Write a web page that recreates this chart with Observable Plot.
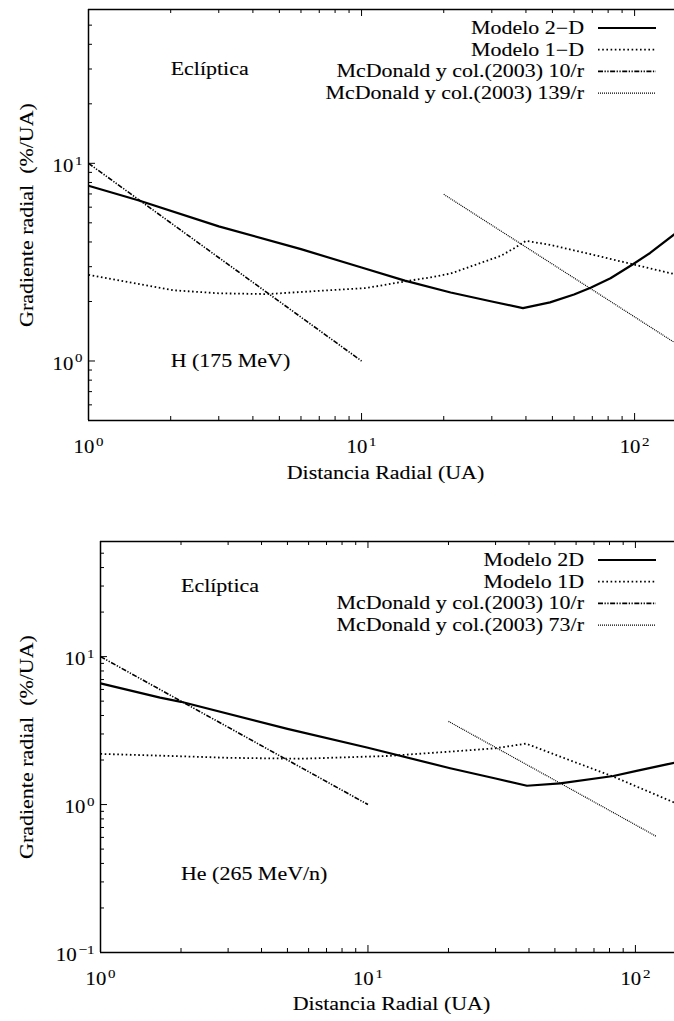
<!DOCTYPE html>
<html><head><meta charset="utf-8">
<script src="https://cdn.jsdelivr.net/npm/d3@7"></script>
<script src="https://cdn.jsdelivr.net/npm/@observablehq/plot@0.6"></script>
<style>
html,body{margin:0;padding:0;background:#fff;}
#chart{width:674px;}
#chart svg{display:block;}
#chart text{stroke:black;stroke-width:0.1px;}
</style></head><body><div id="chart"></div>
<script>
// ---------- data ----------
const xMajor = [1, 10, 100];
const xMinor = [2,3,4,5,6,7,8,9,20,30,40,50,60,70,80,90];

// Panel 1: H (175 MeV)
const hYMajor = [1, 10];
const hYMinor = [0.6,0.7,0.8,0.9,2,3,4,5,6,7,8,9,20,30,40,50];
const h2D_x = [1, 1.52, 3, 6, 10, 14.4, 21.2, 30, 39, 49, 60, 69, 81.6, 98, 114, 140];
const h2D_y = [7.7, 6.5, 4.8, 3.68, 2.97, 2.55, 2.22, 2.0, 1.85, 1.98, 2.17, 2.35, 2.62, 3.07, 3.52, 4.38];
const h1D_x = [1, 2.04, 3, 4.5, 10.4, 15, 17.9, 21.2, 27.6, 32.3, 36, 40, 49, 69, 98, 140];
const h1D_y = [2.73, 2.28, 2.2, 2.18, 2.34, 2.55, 2.65, 2.77, 3.15, 3.4, 3.7, 4.05, 3.87, 3.47, 3.09, 2.75];
const hMcD10_x = [1, 10];
const hMcD10_y = [10, 1];
const hMcD139_x = [20, 140];
const hMcD139_y = [6.97, 1.24];
const hLegend = ["Modelo 2\u2212D", "Modelo 1\u2212D", "McDonald y col.(2003) 10/r", "McDonald y col.(2003) 139/r"];
const hNotes = ["Ecl\u00edptica", "H (175 MeV)"];
const hNotesX = [2, 2];
const hNotesY = [30, 1];

// Panel 2: He (265 MeV/n)
const heYMajor = [0.1, 1, 10];
const heYMinor = [0.2,0.3,0.4,0.5,0.6,0.7,0.8,0.9,2,3,4,5,6,7,8,9,20,30,40,50];
const he2D_x = [1, 1.67, 2, 5, 10, 20.3, 30, 39.3, 52.3, 82.7, 101, 140];
const he2D_y = [6.6, 5.28, 4.95, 3.25, 2.42, 1.76, 1.5, 1.34, 1.39, 1.56, 1.69, 1.92];
const he1D_x = [1, 2, 3, 5.6, 11.8, 20.3, 29.9, 39, 83, 140];
const he1D_y = [2.2, 2.12, 2.07, 2.04, 2.13, 2.28, 2.4, 2.58, 1.54, 1.03];
const heMcD10_x = [1, 10];
const heMcD10_y = [10, 1];
const heMcD73_x = [20, 120];
const heMcD73_y = [3.65, 0.608];
const heLegend = ["Modelo 2D", "Modelo 1D", "McDonald y col.(2003) 10/r", "McDonald y col.(2003) 73/r"];
const heNotes = ["Ecl\u00edptica", "He (265 MeV/n)"];
const heNotesX = [2, 2];
const heNotesY = [30, 0.34];

const xTitle = "Distancia Radial (UA)";
const yTitle = "Gradiente radial\u00a0 (%/UA)";

// ---------- styles ----------
const FONT = "'Liberation Serif','Times New Roman',Times,serif";
const STRETCH = 1.22;
const lineStyles = [
  {strokeWidth: 2.2},
  {strokeWidth: 1.8, strokeDasharray: "1.6,2.6", strokeLinecap: "butt"},
  {strokeWidth: 1.6, strokeDasharray: "5,1.5,1.3,1.5,1.3,1.5", strokeLinecap: "butt"},
  {strokeWidth: 1.2, strokeDasharray: "1,1", strokeLinecap: "butt"}
];

const pts = (xs, ys) => xs.map((x, i) => ({x, y: ys[i]}));

function panel(cfg) {
  const W = 674;
  const innerW = W - cfg.marginLeft;
  const innerH = cfg.height - cfg.marginTop - cfg.marginBottom;
  const fmt = d => "10^" + Math.round(Math.log10(d));
  const marks = [
    Plot.ruleX(xMinor, {insetTop: innerH - 4, strokeWidth: 1}),
    Plot.ruleX(xMinor, {insetBottom: innerH - 4, strokeWidth: 1}),
    Plot.ruleX(xMajor, {insetTop: innerH - 7, strokeWidth: 1}),
    Plot.ruleX(xMajor, {insetBottom: innerH - 7, strokeWidth: 1}),
    Plot.ruleY(cfg.yMinor, {insetRight: innerW - 4, strokeWidth: 1}),
    Plot.ruleY(cfg.yMajor, {insetRight: innerW - 7, strokeWidth: 1}),
    Plot.ruleX([1], {strokeWidth: 1.5}),
    Plot.ruleY(cfg.yDomain, {strokeWidth: 1.5}),
    Plot.axisX({ticks: xMajor, tickSize: 0, tickPadding: 20, tickFormat: fmt, label: null}),
    Plot.axisY({ticks: cfg.yMajor, tickSize: 0, tickPadding: 6, dy: 3, tickFormat: fmt, label: null})
  ];
  cfg.series.forEach((s, i) => {
    marks.push(Plot.line(pts(s[0], s[1]), {x: "x", y: "y", stroke: "black", clip: true, ...lineStyles[i]}));
  });
  marks.push(Plot.text(cfg.notes, {x: (d, i) => cfg.notesX[i], y: (d, i) => cfg.notesY[i], text: d => d, textAnchor: "start"}));
  marks.push(Plot.text([xTitle], {text: d => d, frameAnchor: "bottom", dy: cfg.xTitleDy, dx: 4}));
  marks.push(Plot.text([yTitle], {text: d => d, frameAnchor: "left", rotate: -90, dx: -(cfg.marginLeft - 32), lineAnchor: "bottom", textAnchor: "middle"}));
  const svg = Plot.plot({
    width: W, height: cfg.height,
    marginTop: cfg.marginTop, marginBottom: cfg.marginBottom, marginLeft: cfg.marginLeft, marginRight: 0,
    style: {fontFamily: FONT, fontSize: "18px", color: "black", background: "white"},
    x: {type: "log", domain: [1, 140]},
    y: {type: "log", domain: cfg.yDomain},
    marks
  });
  // legend (inside frame, top right)
  const g = d3.select(svg).append("g").attr("font-family", FONT).attr("font-size", 18).attr("fill", "black");
  cfg.legend.forEach((lab, i) => {
    const cy = cfg.marginTop + 19 + i * 21.7;
    g.append("text").attr("x", 584).attr("y", cy + 6).attr("text-anchor", "end").text(lab);
    const st = lineStyles[i];
    g.append("line").attr("x1", 598).attr("x2", 656).attr("y1", cy).attr("y2", cy)
      .attr("stroke", "black").attr("stroke-width", st.strokeWidth)
      .attr("stroke-dasharray", st.strokeDasharray || null);
  });
  // superscripts on tick labels
  svg.querySelectorAll('g[aria-label$="tick label"] text').forEach(t => {
    const m = t.textContent.match(/^10\^(.+)$/);
    if (!m) return;
    t.textContent = "10";
    const ts = document.createElementNS("http://www.w3.org/2000/svg", "tspan");
    ts.setAttribute("dy", "-7.5");
    ts.setAttribute("dx", "1.5");
    ts.setAttribute("font-size", "13");
    ts.textContent = m[1].replace("-", "\u2212");
    t.appendChild(ts);
  });
  return svg;
}

const root = document.getElementById("chart");
root.appendChild(panel({
  height: 500, marginTop: 9, marginBottom: 80, marginLeft: 88,
  yDomain: [0.5, 60], yMajor: hYMajor, yMinor: hYMinor,
  series: [[h2D_x, h2D_y], [h1D_x, h1D_y], [hMcD10_x, hMcD10_y], [hMcD139_x, hMcD139_y]],
  legend: hLegend, notes: hNotes, notesX: hNotesX, notesY: hNotesY, xTitleDy: 58
}));
root.appendChild(panel({
  height: 521, marginTop: 41, marginBottom: 69, marginLeft: 100,
  yDomain: [0.1, 60], yMajor: heYMajor, yMinor: heYMinor,
  series: [[he2D_x, he2D_y], [he1D_x, he1D_y], [heMcD10_x, heMcD10_y], [heMcD73_x, heMcD73_y]],
  legend: heLegend, notes: heNotes, notesX: heNotesX, notesY: heNotesY, xTitleDy: 57
}));

// widen text along its writing direction to match the reference's wide serif
root.querySelectorAll("text").forEach(t => {
  const L = t.getComputedTextLength();
  if (L > 0) {
    t.setAttribute("textLength", (L * STRETCH).toFixed(1));
    t.setAttribute("lengthAdjust", "spacingAndGlyphs");
  }
});
</script></body></html>
